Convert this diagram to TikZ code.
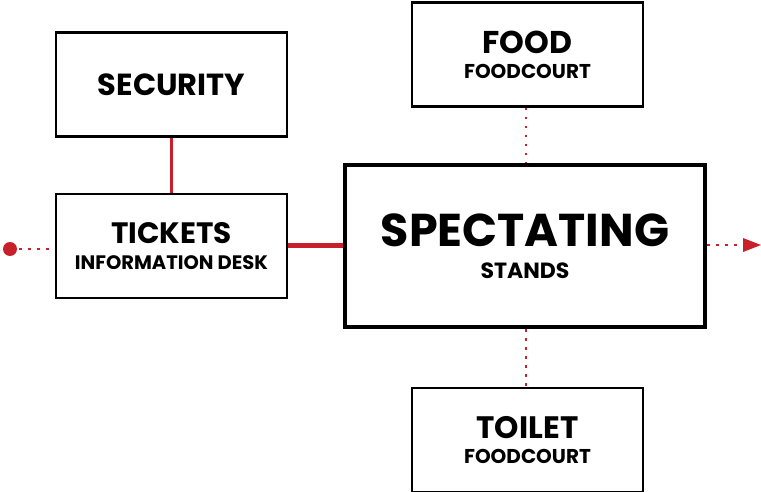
\documentclass[tikz,border=0pt]{standalone}
\usepackage{fontspec}
\setmainfont{Poppins}
\usetikzlibrary{arrows.meta}
\definecolor{redc}{HTML}{C8202A}
\begin{document}
\begin{tikzpicture}[x=1pt,y=-1pt,
  box/.style={draw=black,line width=2.5pt,minimum width=231pt,minimum height=104pt,fill=white,align=center,inner sep=0pt},
  bigbox/.style={draw=black,line width=4pt,minimum width=360pt,minimum height=162pt,fill=white,align=center,inner sep=0pt},
  dotline/.style={draw=redc,line width=2.5pt,dash pattern=on 2.5pt off 6.5pt},
  subf/.style={font=\bfseries\fontsize{19.5}{26}\selectfont}]
\useasboundingbox (0,0) rectangle (761,492);
\node[box,font=\bfseries\fontsize{30.5}{32}\selectfont] (sec) at (171.5,84.5) {SECURITY};
\node[box,subf] (tic) at (171.5,246) {{\fontsize{29.5}{26}\selectfont TICKETS}\\INFORMATION DESK};
\node[bigbox,font=\bfseries\fontsize{22}{32}\selectfont] (spe) at (525,246) {{\fontsize{46}{32}\selectfont SPECTATING}\\STANDS};
\node[box,font=\bfseries\fontsize{20}{25}\selectfont] (foo) at (527.5,54.5) {{\fontsize{31.5}{25}\selectfont FOOD}\\FOODCOURT};
\node[box,font=\bfseries\fontsize{20}{25}\selectfont] (toi) at (527.5,440) {{\fontsize{31}{25}\selectfont TOILET}\\FOODCOURT};
\coordinate (dot) at (10,249);
\coordinate (end) at (761,245);
\draw[redc,line width=2.5pt] (sec.south) -- (tic.north);
\draw[redc,line width=5pt] (tic.east |- 0,245) -- (spe.west |- 0,245);
\draw[dotline] (foo.south -| 526,0) -- (spe.north -| 526,0);
\draw[dotline] (spe.south -| 526,0) -- (toi.north -| 526,0);
\draw[dotline] (dot) -- (tic.west |- dot);
\fill[redc] (dot) circle (7pt);
\draw[dotline] (spe.east |- end) -- (743,245);
\fill[redc] (743,238) -- (761,245) -- (743,252) -- cycle;
\end{tikzpicture}
\end{document}
